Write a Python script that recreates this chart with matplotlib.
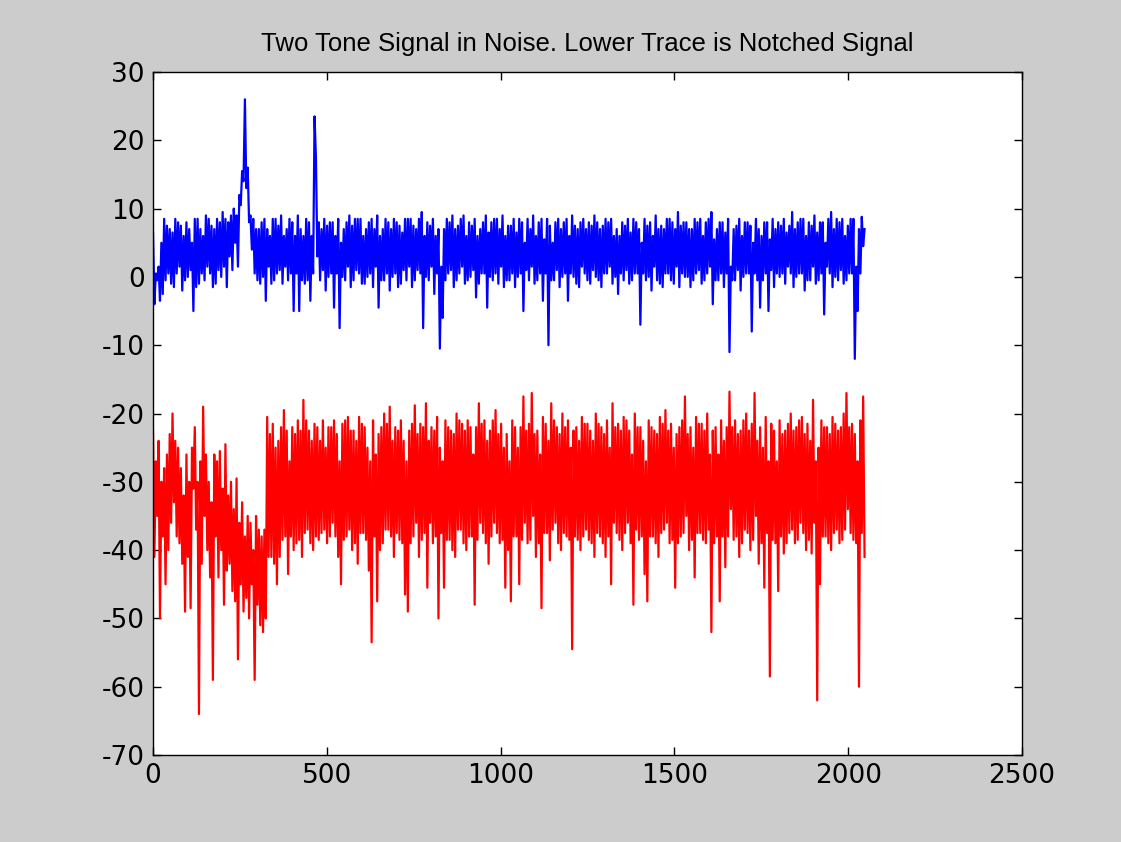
import numpy as np
import matplotlib
matplotlib.use("Agg")
import matplotlib.pyplot as plt

plt.rcParams["axes.unicode_minus"] = False

# upper trace: two tones in noise (about every 4th sample)
blue = [
    6.5, -4, 0.5, -0.5, 1.5, -3.5, 5, -2.5, 8.5, -0.5, 7.5, 0.5, 7, -1, 6.5, -1.5,
    8.5, 0.5, 8, 1.5, 7.5, -2, 6, -0.5, 8, 0, 7, 1, 5, -5, 8.5, -1.5,
    8.5, -1, 7, 0.5, 6, -0.5, 9, 1.5, 8.5, 0.5, 7.5, -1.5, 7, -1, 8.5, 1,
    8, 0, 9.5, 1.5, 8.5, -1.5, 8, 3, 9, 1, 10, 5, 9, 1.5, 12, 10.5,

    15.5, 14, 26, 13, 16, 8, 9, 4, 8.5, 0.5, 7, -0.5, 7, -1, 8, 0,
    8.5, -3.5, 7, 1.5, 6, -1, 8.5, -0.5, 8.5, 0.5, 7.5, 1, 9, -1, 6, 1.5,
    7, -0.5, 8.5, 0.5, 8, -5, 6, 0.5, 9, -5, 7, -0.5, 6, -1, 8.5, -0.5,
    8, -3.5, 6, 0.5, 23.5, 17.5, 3, 8, -0.5, 7, 1, 8.5, -2, 7.5, 0, 8,

    0.5, 8, -4.5, 6, 0.5, 8.5, -7.5, 5, 0, 7, -0.5, 8, 1.5, 9, -1.5, 7.5,
    -0.5, 8.5, 1, 8.5, 0.5, 8.5, -1, 6, -1, 7, 0, 8, 0.5, 8.5, -1.5, 7,
    1.5, 9, -4.5, 6, -0.5, 7, -0.5, 8.5, 0.5, 8, -2, 7, 0, 8.5, 0.5, 8,
    -1.5, 7.5, -1, 6.5, 1, 8.5, -0.5, 8.5, 1.5, 8.5, -1.5, 7.5, -0.5, 7, 1, 8.5,

    0.5, 9.5, -7.5, 6, 0, 8, -0.5, 7.5, 1.5, 8.5, -2.5, 6, 0.5, 7, -10.5, 1.5,
    -6, 7, -0.5, 8.5, 0.5, 8, 1, 9, -1.5, 7, -0.5, 7.5, 0.5, 8.5, 1.5, 9,
    -1, 6, -0.5, 8, 0, 7.5, 1, 8.5, -3, 6, -1, 7, 0.5, 8, 0.5, 9,
    -4.5, 6.5, 0, 8, -0.5, 8.5, 0.5, 8.5, -1, 7, 1.5, 9, -1.5, 6, -0.5, 7.5,

    -0.5, 7.5, 0.5, 8.5, -1.5, 6.5, 0, 8.5, 0.5, 8, -5, 5, 1, 8.5, -0.5, 7,
    1.5, 9, -1, 6, -0.5, 8, 0.5, 8.5, -3.5, 5.5, 0.5, 8.5, -10, 7.5, -0.5, 5,
    -0.5, 8, 1, 8.5, -1.5, 7, 0, 8, 0.5, 8.5, -3.5, 6, 0.5, 9, 0, 7.5,
    -1, 7, -1.5, 8, 1.5, 8.5, 0.5, 7, -0.5, 8, -1, 7.5, 1, 9, 0, 8,

    -0.5, 7, -1.5, 7.5, 0.5, 8.5, 0.5, 8, 1.5, 8.5, -1, 6, 0, 7, -2.5, 6,
    0.5, 8, -0.5, 7.5, 1, 8.5, -1, 6.5, -0.5, 8.5, 0.5, 8, 0.5, 7, -7, 5,
    0.5, 8.5, -0.5, 7.5, 0, 8, -2, 6, 1.5, 9, -0.5, 7, -1, 7.5, -1.5, 7,
    0.5, 8.5, 0.5, 8.5, -0.5, 8, -1, 7, 1.5, 9.5, -1.5, 7.5, 0.5, 8, 0, 8,

    0, 7, -1.5, 7, -0.5, 8.5, 0.5, 8, 1, 8.5, -1, 6, -0.5, 8, 0.5, 8.5,
    1.5, 9.5, -4, 5.5, -0.5, 7, -0.5, 8, 0.5, 8, -1.5, 6.5, 0.5, 8.5, -11, 1.5,
    -0.5, 7, -0.5, 7.5, 1, 8.5, -2, 6, 0, 8, 0.5, 8, 0.5, 7.5, -8, 5,
    0.5, 8.5, -0.5, 7, -4.5, 6, -0.5, 8, 0.5, 8, -5, 5.5, 1, 8.5, -1.5, 7,

    0.5, 8, 0, 7.5, 0.5, 8.5, -1, 6.5, 1.5, 7.5, 0.5, 9.5, -1.5, 7, 0, 8,
    0.5, 8.5, 0.5, 8.5, -2, 6, -0.5, 8, -0.5, 7.5, 1.5, 9, -1, 6.5, -0.5, 8,
    0.5, 8, -5.5, 5, 1.5, 8.5, 0.5, 9.5, -1.5, 7, 0, 8.5, -0.5, 8, 1, 8.5,
    -1, 6, -0.5, 7.5, 0.5, 8.5, 0.5, 8.5, -12, 1.5, -5, 7, 0.5, 8.8, 4.5, 7,
]

# lower trace: the notched signal
red = [
    -22.5, -41, -27, -35, -24, -50, -30, -38, -28, -45, -26, -40, -23, -36, -20, -33,
    -24, -38, -25, -39, -28, -42, -32, -49, -26, -41, -30, -48.5, -25, -31, -22, -37,
    -30, -64, -27, -42, -19, -35, -26, -40, -30, -44, -33, -59, -26, -38, -27, -44,
    -25.5, -40, -31, -48, -24.5, -43, -32, -42, -30, -46, -34, -47.5, -29.5, -56, -36, -45,

    -33, -49, -38, -47, -35, -50, -36, -45, -40, -59, -35, -48, -37, -51, -38, -52,
    -37, -50, -20.5, -41, -23, -41, -21.5, -42, -25, -45, -24, -41, -22, -38.5, -19.5, -38,
    -22.5, -43.5, -27, -38, -22, -40, -23, -39, -21, -38.5, -22.5, -41, -18, -37.5, -21, -37,
    -22.5, -39, -24, -40, -21.5, -38, -22, -38.5, -24, -37.5, -21, -37, -25, -39, -22, -38,

    -22, -36, -21, -38, -23, -41, -27, -45, -21.5, -38.5, -21, -38, -20.5, -37, -22.5, -40,
    -22.5, -39, -24, -42, -20.5, -37.5, -21.5, -37.5, -22, -38.5, -25, -43, -27, -53.5, -21, -38,
    -26, -47.5, -23, -40, -22, -39, -20, -37, -21.5, -37, -19, -38, -24, -41, -22, -37.5,
    -22.5, -38.5, -21, -39, -24, -46.5, -27, -49, -22.5, -39, -21.5, -38, -18.8, -36, -23, -41,

    -21.5, -38.5, -22, -37.5, -18.5, -45.5, -24, -36, -22, -39, -22.5, -38, -20.5, -50, -25, -37.5,
    -27, -45.5, -21, -38.5, -22, -38.5, -22.5, -40, -23, -41, -20, -37, -21, -37, -21.5, -39,
    -22.5, -40, -21, -38, -22, -38, -26, -48, -22, -38.5, -18.5, -36, -21.5, -37.5, -21, -39,
    -24, -42, -22.5, -38, -21, -36, -19.5, -37.5, -23, -39, -21.5, -38.5, -25, -45.5, -23, -40,

    -27, -47.5, -21, -38, -22, -38, -25, -45, -22, -38.5, -17.5, -36, -22.5, -39, -21.5, -38.5,
    -17, -35, -23, -41, -22.5, -39, -26, -48.5, -20.5, -37.5, -21.5, -37.5, -24, -41.5, -18.5, -37,
    -21, -36, -22, -39, -23, -40, -20, -37.5, -22, -38, -21, -38.5, -25, -54.5, -22.5, -38,
    -22, -38.5, -24, -40, -20.5, -38, -21.5, -37, -21.5, -38.5, -22.5, -39, -24, -41, -20, -37.5,

    -21.5, -38, -22, -39, -23, -41, -21, -38, -25, -45, -18.5, -36, -22, -37.5, -21.5, -38.5,
    -22.5, -40, -20.5, -37.5, -21, -36, -22.5, -39, -26, -48, -20, -37, -22, -38.5, -22, -38,
    -24, -43.5, -27, -47.5, -21, -38, -22, -38, -22.5, -39, -23, -41, -20.5, -37.5, -21.5, -37,
    -19.5, -36, -22.5, -39, -21.5, -38.5, -25, -45.5, -23, -39, -22, -38, -21, -37.5, -17.5, -35,

    -23, -40, -22, -38.5, -25, -44, -20.5, -37.5, -21.5, -37.5, -21.5, -38.5, -22.5, -39, -20, -37,
    -26, -52, -22.5, -39, -22, -38, -26, -47.5, -21, -38, -24, -42.5, -22, -38, -16.8, -34,
    -22, -38.5, -21, -38, -23, -41, -22.5, -39, -21, -37, -20, -37.5, -22.5, -40, -21.5, -38.5,
    -17, -35, -24, -42, -22, -39, -25, -45.5, -20.5, -37.5, -27, -58.5, -21.5, -38.5, -22.5, -39,

    -27, -46, -21, -38, -23, -40.5, -22.5, -39, -21.5, -37.5, -20, -37, -22.5, -39, -22, -38.5,
    -21, -36, -20.5, -37.5, -23, -40, -21.5, -38.5, -24, -40.5, -18, -36, -27, -62, -25, -45,
    -21, -38, -22, -38, -22, -39, -23, -40, -20.5, -37.5, -21.5, -37, -22.5, -39, -22, -38.5,
    -20, -37, -17, -34, -22, -37.5, -21.5, -38.5, -23, -39, -27, -60, -21, -37.5, -17.5, -41,
]

n = np.linspace(0, 2047, len(blue))

fig = plt.figure(figsize=(11.21, 8.42), dpi=100, facecolor="#cccccc")
ax = fig.add_axes([0.1365, 0.1033, 0.7752, 0.8112])
ax.set_facecolor("white")

ax.plot(n, blue, color="#0000ff", lw=1.6)
ax.plot(n, red, color="#ff0000", lw=1.6)

ax.set_xlim(0, 2500)
ax.set_ylim(-70, 30)
ax.set_xticks(np.arange(0, 2501, 500))
ax.set_yticks(np.arange(-70, 31, 10))
ax.tick_params(direction="in", top=True, right=True, length=6, width=1,
               labelsize=19, pad=6)
for lab in ax.get_xticklabels() + ax.get_yticklabels():
    lab.set_family(["DejaVu Sans"])
for s in ax.spines.values():
    s.set_linewidth(1.0)

ax.set_title("Two Tone Signal in Noise. Lower Trace is Notched Signal",
             fontsize=18.5, family=["Liberation Sans", "DejaVu Sans"], pad=15)

fig.savefig("out.png", dpi=100, facecolor=fig.get_facecolor())
